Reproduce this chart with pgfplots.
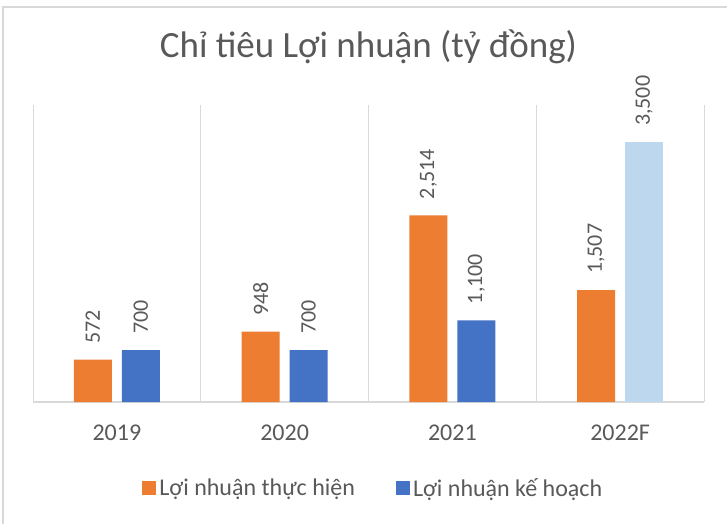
\documentclass[border=0pt]{standalone}
\usepackage{pgfplots}
\pgfplotsset{compat=1.18}
\usepackage{fontspec}
\setmainfont{Carlito}
\definecolor{cOr}{HTML}{ED7D31}
\definecolor{cBl}{HTML}{4472C4}
\definecolor{cLb}{HTML}{BDD7EE}
\definecolor{cGr}{HTML}{D9D9D9}
\definecolor{cTx}{HTML}{595959}
\begin{document}
\begin{tikzpicture}[x=1pt,y=1pt]
\useasboundingbox (0,0) rectangle (727,523);
\draw[cGr, line width=1.2pt] (3,-10) -- (3,516) -- (740,516);
\begin{axis}[
  at={(33pt,121pt)}, anchor=south west,
  scale only axis, width=671pt, height=297pt,
  xmin=-0.5, xmax=3.5, ymin=0, ymax=4000,
  axis y line=none, axis x line*=bottom,
  x axis line style={cGr, line width=1.2pt, -},
  xtick={0,1,2,3}, xticklabels={2019,2020,2021,2022F},
  major tick length=0pt, minor tick length=0pt,
  minor xtick={-0.5,0.5,1.5,2.5,3.5}, xminorgrids=true,
  minor grid style={cGr, line width=1pt},
  ytick=\empty,
  xticklabel style={font=\fontsize{24}{26}\selectfont, text=cTx, inner sep=0pt, anchor=north, yshift=-23pt},
  title={Chỉ tiêu Lợi nhuận (tỷ đồng)},
  title style={at={(0.5,1)}, anchor=base, yshift=42pt, font=\fontsize{37}{40}\selectfont, text=cTx},
  legend style={at={(0.508,-0.2896)}, anchor=center, draw=none, legend columns=2,
    font=\fontsize{24}{26}\selectfont, text=cTx,
    nodes={inner xsep=3pt, inner ysep=1pt},
    /tikz/every even column/.append style={column sep=38pt}},
  legend image code/.code={\fill[#1] (0pt,-7pt) rectangle (14pt,7pt);},
  point meta=explicit symbolic,
  nodes near coords,
  lbl/.style={nodes near coords style={xshift=#1, rotate=90, anchor=west, font=\fontsize{22}{24}\selectfont, text=cTx, inner xsep=16pt, inner ysep=0pt}},
]
\addplot[ybar, bar width=38pt, bar shift=-24pt, fill=cOr, draw=none, lbl=-24pt]
  coordinates {(0,572) [572] (1,948) [948] (2,2514) [{2,514}] (3,1507) [{1,507}]};
\addlegendentry{Lợi nhuận thực hiện}
\addplot[ybar, bar width=38pt, bar shift=24pt, fill=cBl, draw=none, lbl=24pt]
  coordinates {(0,700) [700] (1,700) [700] (2,1100) [{1,100}]};
\addlegendentry{Lợi nhuận kế hoạch}
\addplot[ybar, bar width=38pt, bar shift=24pt, fill=cLb, draw=none, forget plot, lbl=24pt]
  coordinates {(3,3500) [{3,500}]};
\end{axis}
\end{tikzpicture}
\end{document}
